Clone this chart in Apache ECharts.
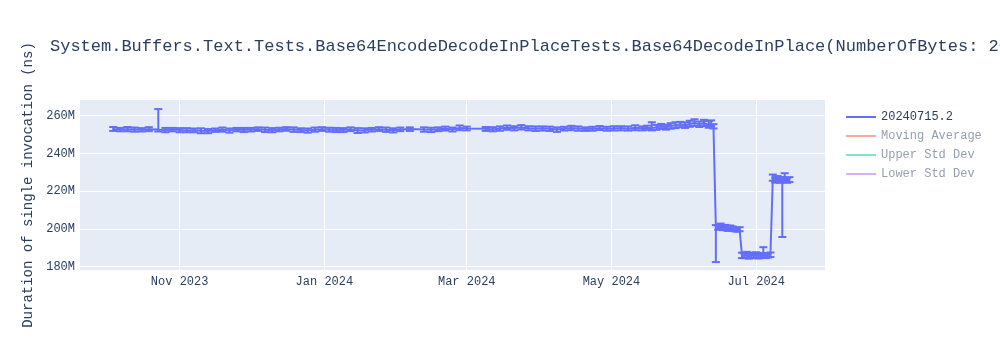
<!DOCTYPE html>
<html>
<head>
<meta charset="utf-8">
<script src="https://cdn.jsdelivr.net/npm/echarts@6/dist/echarts.min.js"></script>
<style>
html,body{margin:0;padding:0;background:#fff;}
#main{width:1000px;height:350px;}
</style>
</head>
<body>
<div id="main"></div>
<script>
// ---- data (values in millions of ns) ----
const dates = [
'2023-10-04','2023-10-07','2023-10-10','2023-10-13','2023-10-16','2023-10-19','2023-10-23','2023-10-26','2023-10-29',
'2023-11-01','2023-11-04','2023-11-07','2023-11-10','2023-11-13','2023-11-16','2023-11-19','2023-11-22','2023-11-25','2023-11-28',
'2023-12-01','2023-12-04','2023-12-07','2023-12-10','2023-12-13','2023-12-16','2023-12-19','2023-12-22','2023-12-25','2023-12-28','2023-12-31',
'2024-01-03','2024-01-06','2024-01-09','2024-01-12','2024-01-15','2024-01-18','2024-01-21','2024-01-24','2024-01-27','2024-01-30',
'2024-02-02','2024-02-06','2024-02-12','2024-02-15','2024-02-18','2024-02-21','2024-02-24','2024-02-27','2024-03-01',
'2024-03-09','2024-03-12','2024-03-15','2024-03-18','2024-03-21','2024-03-24','2024-03-27','2024-03-30',
'2024-04-02','2024-04-05','2024-04-08','2024-04-11','2024-04-14','2024-04-17','2024-04-20','2024-04-23','2024-04-26','2024-04-29',
'2024-05-02','2024-05-05','2024-05-08','2024-05-11','2024-05-14','2024-05-16','2024-05-18','2024-05-20','2024-05-22','2024-05-24','2024-05-26','2024-05-28','2024-05-30',
'2024-06-01','2024-06-03','2024-06-05','2024-06-07','2024-06-09','2024-06-11','2024-06-12','2024-06-13',
'2024-06-14','2024-06-15','2024-06-16','2024-06-17','2024-06-18','2024-06-19','2024-06-20','2024-06-21','2024-06-22','2024-06-23','2024-06-24',
'2024-06-25','2024-06-26','2024-06-27','2024-06-28','2024-06-29','2024-06-30','2024-07-01','2024-07-02','2024-07-03','2024-07-04','2024-07-05','2024-07-06','2024-07-07',
'2024-07-08','2024-07-09','2024-07-10','2024-07-11','2024-07-12','2024-07-13','2024-07-14','2024-07-15'
];
const durations = [
252.9,252.6,252.8,252.7,252.5,252.8,252.6,252.3,252.6,
252.4,252.2,252.3,252.0,251.9,252.3,252.5,252.2,252.6,252.4,
252.6,252.8,252.5,252.3,252.7,252.9,252.6,252.4,252.2,252.5,252.8,
252.6,252.3,252.5,252.7,252.1,252.3,252.6,252.8,252.5,252.3,
252.7,252.9,252.6,252.5,252.8,253.0,252.7,253.5,253.2,
253.0,252.7,253.2,253.6,253.4,253.7,253.3,253.1,
253.3,253.0,252.7,253.1,253.4,253.2,252.9,253.1,253.3,253.0,
253.2,253.4,253.1,253.6,253.3,253.5,253.4,253.8,254.2,253.9,254.5,254.9,255.3,
254.8,255.6,256.2,255.4,256.0,255.2,255.8,254.3,
200.4,200.8,201.2,200.6,200.9,200.3,200.7,200.1,199.8,199.5,199.9,
186.0,185.8,186.3,185.6,186.1,185.9,186.2,185.7,186.0,186.4,185.9,186.1,186.3,
227.0,225.8,226.4,225.6,226.0,226.9,225.7,226.2
];
const errorsUp = [
1.1,0.9,1.2,1.0,0.9,1.1,10.9,1.2,0.9,
1.0,1.2,0.9,1.3,1.0,0.9,1.2,1.0,0.9,1.1,
0.9,1.0,1.2,1.1,0.9,1.0,1.2,0.9,1.0,1.2,1.1,
1.0,1.2,0.9,1.1,1.3,1.0,0.9,1.1,1.2,1.0,
1.0,0.9,1.2,1.1,1.0,1.2,1.0,1.3,1.0,
1.0,1.2,1.1,1.2,1.0,1.3,1.1,1.2,
1.0,1.2,1.1,1.0,1.2,1.1,0.9,1.0,1.2,1.1,
1.2,1.0,1.2,1.3,1.0,1.2,3.1,1.3,1.4,1.2,1.5,1.6,1.4,
1.6,1.7,1.9,1.5,1.8,1.9,1.7,1.2,
1.6,1.2,1.6,1.4,1.2,1.3,1.1,1.2,1.0,1.1,1.0,
1.4,1.2,1.5,1.1,1.3,1.2,1.4,1.1,1.2,3.9,1.3,1.1,1.2,
1.8,1.4,1.6,1.3,1.5,2.6,1.4,1.2
];
const errorsDown = [
1.0,0.9,1.1,1.2,0.9,1.0,1.0,1.1,0.9,
1.2,1.0,1.1,1.3,1.2,0.9,1.0,1.2,0.9,1.1,
1.0,0.9,1.2,1.1,1.0,0.9,1.2,1.1,1.2,1.0,0.9,
1.1,1.0,1.2,0.9,1.3,1.2,1.0,0.9,1.1,1.2,
0.9,1.0,1.1,1.2,1.0,0.9,1.1,1.2,1.0,
1.1,1.0,1.2,1.1,1.2,1.0,1.1,1.2,
1.2,1.1,1.3,1.0,1.1,1.2,1.0,1.1,0.9,1.0,
1.1,1.2,1.0,1.3,1.1,1.0,1.2,1.3,1.2,1.3,1.4,1.5,1.4,
1.3,1.5,1.6,1.4,1.5,1.6,1.4,1.1,
18.0,1.3,1.2,1.3,1.2,1.4,1.1,1.2,1.1,1.0,1.1,
1.5,1.3,1.6,1.4,1.5,1.3,1.7,1.4,1.4,1.5,1.4,1.3,1.2,
1.5,1.3,1.4,1.2,30.3,1.6,1.3,1.4
];
const xTickDates = ['2023-11-01','2024-01-01','2024-03-01','2024-05-01','2024-07-01'];
const xRange = ['2023-09-20','2024-07-30'];
const yTicks = [180,200,220,240,260];
const yRange = [178.2,268.3];
const seriesNames = ['20240715.2','Moving Average','Upper Std Dev','Lower Std Dev'];
const titleText = 'System.Buffers.Text.Tests.Base64EncodeDecodeInPlaceTests.Base64DecodeInPlace(NumberOfBytes: 200000000)';
const yTitle = 'Duration of single invocation (ns)';
const monthNames = ['Jan','Feb','Mar','Apr','May','Jun','Jul','Aug','Sep','Oct','Nov','Dec'];

// ---- build ----
function toTs(s){const p=s.split('-').map(Number);return new Date(p[0],p[1]-1,p[2]).getTime();}
const lineData = dates.map((d,i)=>[toTs(d), durations[i]]);
const errData = dates.map((d,i)=>[toTs(d), durations[i]-errorsDown[i], durations[i]+errorsUp[i]]);
const FONT = '"Liberation Mono","DejaVu Sans Mono",monospace';
const TXT = '#2a3f5f';
const BLUE = '#636efa';
const faded = ['#f7aa9d','#80e6cb','#d5b1fd'];

const chart = echarts.init(document.getElementById('main'), null, {renderer:'canvas'});
chart.setOption({
  animation:false,
  backgroundColor:'#ffffff',
  title:{text:titleText,left:50,top:38,padding:0,textStyle:{fontFamily:FONT,fontSize:17,fontWeight:'normal',color:TXT}},
  grid:{left:80,right:175,top:100,bottom:80,show:true,backgroundColor:'#E5ECF6',borderWidth:0,containLabel:false},
  legend:{
    orient:'vertical',left:846,top:111,padding:0,itemWidth:30,itemHeight:2,itemGap:7,icon:'rect',selectedMode:false,
    textStyle:{fontFamily:FONT,fontSize:12,color:TXT},
    data:[
      {name:seriesNames[0]},
      {name:seriesNames[1],textStyle:{color:'#949faf'}},
      {name:seriesNames[2],textStyle:{color:'#949faf'}},
      {name:seriesNames[3],textStyle:{color:'#949faf'}}
    ]
  },
  xAxis:{
    type:'value',min:toTs(xRange[0]),max:toTs(xRange[1]),
    axisLine:{show:false},
    axisTick:{show:false,customValues:xTickDates.map(toTs)},
    axisLabel:{customValues:xTickDates.map(toTs),fontFamily:FONT,fontSize:12,color:TXT,margin:6,
      formatter:function(v){const d=new Date(v);return monthNames[d.getMonth()]+' '+d.getFullYear();}},
    splitLine:{show:true,lineStyle:{color:'#ffffff',width:1}}
  },
  yAxis:{
    type:'value',min:yRange[0],max:yRange[1],
    name:yTitle,nameLocation:'middle',nameGap:44,nameRotate:90,
    nameTextStyle:{fontFamily:FONT,fontSize:14,color:TXT},
    axisLine:{show:false},
    axisTick:{show:false,customValues:yTicks},
    axisLabel:{customValues:yTicks,fontFamily:FONT,fontSize:12,color:TXT,margin:5,formatter:function(v){return v+'M';}},
    splitLine:{show:true,lineStyle:{color:'#ffffff',width:1}}
  },
  series:[
    {name:seriesNames[0],type:'line',data:lineData,showSymbol:false,symbol:'none',color:BLUE,
     lineStyle:{color:BLUE,width:2},z:3},
    {type:'custom',data:errData,encode:{x:0,y:[1,2]},z:4,
     renderItem:function(params,api){
       const x=api.value(0),lo=api.value(1),hi=api.value(2);
       const a=api.coord([x,hi]),b=api.coord([x,lo]);
       const hw=4,st={stroke:BLUE,lineWidth:2};
       return {type:'group',children:[
         {type:'line',shape:{x1:a[0],y1:a[1],x2:b[0],y2:b[1]},style:st},
         {type:'line',shape:{x1:a[0]-hw,y1:a[1],x2:a[0]+hw,y2:a[1]},style:st},
         {type:'line',shape:{x1:b[0]-hw,y1:b[1],x2:b[0]+hw,y2:b[1]},style:st}
       ]};
     }},
    {name:seriesNames[1],type:'line',data:[],color:faded[0],lineStyle:{color:faded[0]}},
    {name:seriesNames[2],type:'line',data:[],color:faded[1],lineStyle:{color:faded[1]}},
    {name:seriesNames[3],type:'line',data:[],color:faded[2],lineStyle:{color:faded[2]}}
  ]
});
</script>
</body>
</html>
